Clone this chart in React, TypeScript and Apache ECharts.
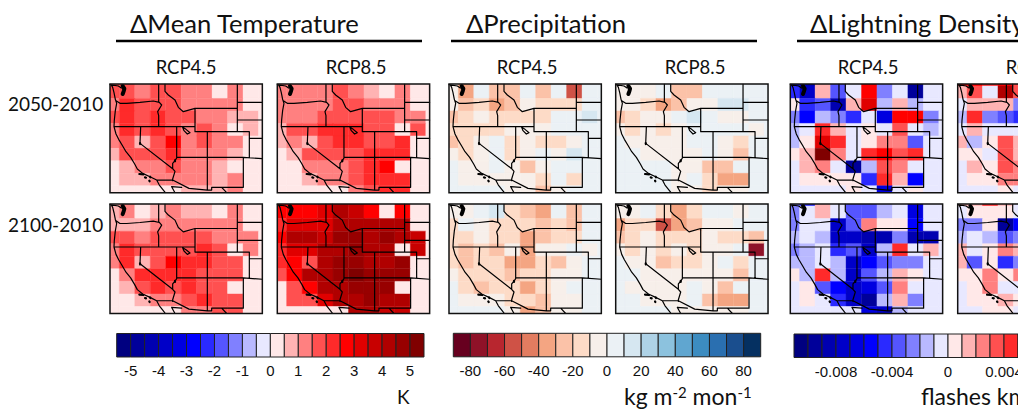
import React, { useEffect, useRef } from "react";
import * as echarts from "echarts";

// ---------- values (rows top to bottom, columns west to east) ----------
const tempBlueRed = ["#000080","#00009a","#0000b0","#0000c8","#0000e0","#0000ff","#2a2aff","#5555ff","#8080ff","#b9b9ff","#e8e8ff","#ffe8e8","#ffb3b3","#ff8080","#ff5050","#ff2a2a","#ff0000","#e00000","#c80000","#b00000","#980000","#800000"];
const precipRdBu = ["#67001f","#8f1228","#b8262f","#cf5246","#e27c60","#f4a582","#fbc2a8","#fddbc7","#f7efea","#ebf1f5","#d6e7f1","#aed2e6","#8cc2de","#60a6d0","#3c8cc0","#2a6fb0","#1a4e8e","#053061"];

const tempTicks = [-5,-4,-3,-2,-1,0,1,2,3,4,5];
const precipTicks = [-80,-60,-40,-20,0,20,40,60,80];
const lightTicks = [-0.008,-0.004,0,0.004,0.008];

const t2050rcp45 = [
 [1.7,1.7,1.2,1.7,1.7,1.2,1.2,.2,1.2,.2,.2],
 [1.7,1.7,1.2,1.7,1.7,1.2,1.2,.2,1.2,.2,.2],
 [1.2,2.2,1.7,1.7,1.7,1.2,1.2,1.2,1.2,.2,.2],
 [1.7,2.2,1.7,2.2,1.7,1.7,1.2,1.2,.7,.7,.2],
 [1.2,2.2,1.7,2.2,1.7,1.2,1.7,1.2,.2,.7,.2],
 [1.2,1.7,.7,1.7,2.7,1.2,1.7,1.2,1.2,.2,.2],
 [.7,1.7,1.7,1.7,2.2,1.2,1.2,1.2,.7,.2,.2],
 [.2,.7,1.2,1.2,1.7,1.2,1.2,.7,.2,.2,.2],
 [.2,.7,.7,1.2,1.2,1.2,1.2,.7,1.2,.2,.2],
 [.2,.2,.2,.2,.2,.7,.7,.7,1.2,.2,.2],
];
const t2050rcp85 = [
 [1.2,1.2,1.2,1.2,1.7,1.2,.7,.2,1.2,.2,.2],
 [1.2,1.2,1.2,1.2,1.7,1.2,.7,.2,1.2,.2,.2],
 [1.2,1.2,1.2,1.2,1.7,1.7,1.2,1.2,1.2,.2,.2],
 [1.2,1.2,1.2,1.7,1.7,1.7,1.7,1.7,1.2,1.2,.2],
 [.7,1.7,1.7,2.2,2.2,2.2,1.7,1.7,.2,1.7,.2],
 [.7,1.2,.7,1.7,2.2,2.2,1.7,1.7,2.2,.2,.2],
 [.2,.7,1.7,1.7,1.7,1.7,2.2,2.2,2.2,.2,.2],
 [.2,.2,1.2,1.2,1.2,1.7,2.2,2.7,.2,.2,.2],
 [.2,.2,.7,1.2,1.2,1.7,2.2,2.2,2.2,.2,.2],
 [.2,.2,.2,.2,.2,1.2,1.7,2.2,2.2,.2,.2],
];
const t2100rcp45 = [
 [.7,1.2,.2,.7,1.2,.7,.7,.2,1.2,.2,.2],
 [.7,1.2,.2,.7,1.2,.7,.7,.2,1.2,.2,.2],
 [.7,.7,.7,1.2,1.2,1.2,1.2,1.2,1.2,.2,.2],
 [1.7,1.7,1.2,1.7,1.7,1.7,1.7,1.2,1.2,1.2,.2],
 [1.2,2.2,1.7,1.7,1.7,1.7,2.2,1.7,.2,1.2,.2],
 [1.2,2.2,.7,1.7,2.7,2.2,2.2,1.7,1.7,.2,.2],
 [.2,1.2,2.2,2.2,2.2,2.2,1.7,1.7,1.7,.2,.2],
 [.2,.7,1.7,2.2,1.7,2.2,1.7,1.7,.2,.2,.2],
 [.2,.2,.7,1.2,1.2,1.7,2.2,1.7,1.7,.2,.2],
 [.2,.2,.2,.2,.2,1.2,1.2,1.7,1.7,.2,.2],
];
const t2100rcp85 = [
 [2.7,2.7,2.7,3.2,4.2,3.7,2.7,.2,2.7,.2,.2],
 [2.7,2.7,2.7,3.2,4.2,3.7,2.7,.2,2.7,.2,.2],
 [2.2,3.2,3.2,3.2,4.2,4.2,4.2,4.2,4.2,.2,.2],
 [2.7,4.2,4.2,3.7,4.7,4.7,4.2,4.7,4.2,3.7,.2],
 [2.2,3.2,3.2,4.2,4.2,4.7,4.2,4.2,.2,3.7,.2],
 [2.2,2.7,1.7,4.2,4.7,4.7,4.2,4.2,4.7,.2,.2],
 [1.7,2.7,4.2,4.2,4.7,5.2,4.7,4.7,4.7,.2,.2],
 [.2,1.7,2.7,4.2,4.2,4.7,4.7,4.7,.2,.2,.2],
 [.2,1.7,1.7,3.2,4.2,4.2,4.7,4.2,4.2,.2,.2],
 [.2,.2,.2,.2,.2,4.2,4.2,3.7,3.7,.2,.2],
];
const p2050rcp45 = [
 [-5,-35,5,-25,-25,5,-25,5,-55,5,5],
 [-5,-35,5,-25,-25,5,-25,5,-55,5,5],
 [-5,-25,-15,-35,-25,-5,-15,-15,-15,5,5],
 [-25,-15,-5,-15,-15,-15,-15,5,5,15,5],
 [-15,-15,-15,-15,-5,-5,-5,5,5,5,5],
 [-25,-15,-5,5,-15,-5,-15,-15,-5,5,5],
 [-5,-15,-5,5,-15,-5,5,-5,15,5,5],
 [5,-5,-5,5,-5,-25,-5,5,5,5,5],
 [5,-5,-5,-5,-5,-5,-15,5,-15,5,5],
 [5,5,5,5,-5,-5,-25,-5,5,5,5],
];
const p2050rcp85 = [
 [-5,-5,-5,5,-25,-25,5,5,5,5,5],
 [-5,-5,-5,5,-25,-25,5,5,5,5,5],
 [-5,-5,-15,-35,-25,-5,-5,15,15,5,5],
 [-25,-15,-5,-5,5,15,5,-5,-5,5,5],
 [-5,-15,-5,-15,-5,5,5,5,5,-5,5],
 [5,-5,-5,-5,-5,5,5,-5,-15,5,5],
 [5,5,-5,-5,-5,-5,5,-5,-25,5,5],
 [5,5,5,5,-5,-5,-25,-25,5,5,5],
 [5,5,5,5,-5,5,-15,-35,-35,5,5],
 [5,5,5,5,-5,-5,-15,-5,-5,5,5],
];
const p2100rcp45 = [
 [-5,-5,5,15,-15,-25,-35,5,-25,5,5],
 [-5,-5,5,15,-15,-25,-35,5,-25,5,5],
 [-15,5,-5,-15,-15,-15,-25,-15,-25,5,5],
 [-15,-15,-5,-15,-15,-35,-25,-15,-15,5,5],
 [-15,-25,-15,-25,-5,-35,-5,-5,5,-5,5],
 [-15,-25,-15,-15,-35,-35,-15,-25,-5,5,5],
 [-5,-15,-15,-15,-25,-15,-15,-5,-5,5,5],
 [5,-15,-25,-15,-15,-35,-15,-5,5,5,5],
 [5,-5,-5,-5,-15,-15,-25,-5,-5,5,5],
 [5,5,5,5,-5,-35,-25,-5,-5,5,5],
];
const p2100rcp85 = [
 [-5,-5,5,-15,-35,-15,5,5,-5,5,5],
 [-5,-5,5,-15,-35,-15,5,5,-5,5,5],
 [-35,-15,-15,-55,-35,-25,-5,-5,5,5,5],
 [-25,-15,-5,-15,-15,-15,-5,-15,-15,-25,5],
 [-5,-15,-5,-15,-5,-15,-5,-5,5,-75,5],
 [5,-5,-5,-25,-15,-15,-5,5,-15,5,5],
 [5,5,-5,-5,-5,-5,-5,-5,-25,5,5],
 [5,-5,-5,-5,-5,5,-5,-25,5,5,5],
 [5,5,-5,-5,-5,5,-25,-35,-35,5,5],
 [5,5,5,5,-5,-5,-5,-5,-5,5,5],
];
// lightning values, in thousandths of a flash
const l2050rcp45 = [
 [-6.5,-8.5,1.5,-3.5,-.5,5.5,-2.5,-.5,-9.5,-.5,-.5],
 [-4.5,-7.5,1.5,-3.5,-.5,5.5,-2.5,-.5,-9.5,-.5,-.5],
 [.5,-4.5,-3.5,-8.5,1.5,6.5,-1.5,1.5,-1.5,-.5,-.5],
 [-2.5,-5.5,-1.5,-2.5,-4.5,-.5,-6.5,5.5,5.5,-2.5,-.5],
 [-1.5,-.5,4.5,1.5,-.5,.5,-.5,3.5,-.5,-1.5,-.5],
 [-1.5,.5,6.5,4.5,-.5,.5,2.5,2.5,-3.5,-.5,-.5],
 [.5,1.5,10.5,2.5,-.5,4.5,5.5,3.5,4.5,-.5,-.5],
 [-.5,1.5,2.5,-.5,-9.5,-1.5,3.5,2.5,-.5,-.5,-.5],
 [-.5,.5,.5,.5,.5,-4.5,4.5,1.5,-5.5,-.5,-.5],
 [-.5,-.5,-.5,-.5,.5,-.5,-6.5,-.5,.5,-.5,-.5],
];
const l2050rcp85 = [
 [5.5,5.5,4.5,5.5,3.5],
 [1.5,3.5,-.5,8.5,3.5],
 [-.5,1.5,1.5,1.5,-2.5],
 [-1.5,4.5,-2.5,-3.5,-4.5],
 [-.5,1.5,-.5,-.5,-.5],
 [1.5,-1.5,.5,3.5,1.5],
 [.5,.5,-.5,3.5,1.5],
 [-.5,1.5,.5,3.5,2.5],
 [-.5,.5,.5,2.5,2.5],
 [-.5,-.5,-.5,.5,-.5],
];
const l2100rcp45 = [
 [-2.5,-4.5,1.5,-.5,-3.5,-3.5,-1.5,-.5,-6.5,-.5,-.5],
 [-2.5,-.5,1.5,-.5,-3.5,-3.5,-1.5,-.5,-6.5,-.5,-.5],
 [-2.5,-.5,-.5,-7.5,-3.5,2.5,.5,.5,-5.5,-.5,-.5],
 [-1.5,-.5,-1.5,-7.5,-7.5,-8.5,-8.5,-2.5,-8.5,-8.5,-.5],
 [-2.5,-1.5,-.5,-4.5,-3.5,-7.5,-1.5,4.5,-.5,1.5,-.5],
 [-1.5,-1.5,-.5,-1.5,-7.5,-5.5,-3.5,-2.5,-2.5,-.5,-.5],
 [.5,-1.5,4.5,-1.5,-7.5,-3.5,-1.5,1.5,.5,-.5,-.5],
 [-.5,.5,-3.5,-5.5,-7.5,-6.5,-3.5,2.5,-.5,-.5,-.5],
 [-.5,.5,-.5,-4.5,-7.5,-9.5,-1.5,1.5,-2.5,-.5,-.5],
 [-.5,-.5,-.5,-.5,-.5,-6.5,-7.5,-1.5,-.5,-.5,-.5],
];
const l2100rcp85 = [
 [1.5,1.5,4.5,1.5,-.5],
 [-.5,.5,.5,.5,-.5],
 [-2.5,-2.5,.5,-9.5,-5.5],
 [-1.5,-.5,-1.5,-3.5,-2.5],
 [1.5,-.5,.5,2.5,1.5],
 [1.5,-3.5,.5,-4.5,-2.5],
 [.5,.5,2.5,.5,2.5],
 [-.5,.5,2.5,-.5,-.5],
 [-.5,.5,.5,1.5,.5],
 [-.5,-.5,.5,.5,-.5],
];

// Base map, traced in map units (panel = 457 x 326)
const mapLines: number[][][] = [
 [[4,3],[8,10],[12,26],[16,46],[20,58],[16,80],[13,108],[12,128],[18,150],[26,166],[38,186],[48,203],[62,220],[74,240],[82,255],[98,268],[120,278],[140,288],[148,303],[160,318],[166,326]],
 [[0,2],[25,6],[34,12]],
 [[18,50],[30,58],[50,58],[90,55],[130,51],[148,55]],
 [[146,0],[146,55]],
 [[148,55],[155,63],[143,83],[146,95],[146,128]],
 [[12,128],[255,128]],
 [[165,0],[165,22],[175,33],[195,48],[205,70],[220,83],[255,73]],
 [[255,73],[255,143],[292,143]],
 [[255,73],[382,73]],
 [[382,0],[382,143]],
 [[292,143],[418,143],[418,220]],
 [[382,55],[457,55]],
 [[382,108],[457,108]],
 [[418,163],[457,163]],
 [[200,220],[400,220],[457,224]],
 [[200,128],[200,222],[195,230],[188,238],[188,254],[195,262],[188,285],[188,290]],
 [[92,128],[90,178],[188,254]],
 [[140,288],[188,288],[237,313],[292,318],[305,318],[305,310],[335,310],[350,326]],
 [[292,143],[292,318]],
 [[400,220],[400,310],[335,310]],
 [[185,308],[215,310]],
 [[185,308],[195,326]],
 [[218,130],[228,136],[240,146],[232,150],[222,140],[218,130]],
];
const mapBlobs: number[][][] = [
 [[90,177],[90.5,180]],
 [[195,229],[195,232]],
 [[88,270],[100,271]],
 [[105,280],[108,281]],
 [[120,278],[121,280]],
 [[118,290],[119,292]],
];
const pugetSound: number[][][] = [[[38,6],[43,14],[41,22],[38,30]]];

// ---------- layout ----------
const MAP_W = 457, MAP_H = 326;
const firstCol = 28, colW = 46.4, firstRow = 6, rowH = 37.4;
const colEdge = (c: number) => Math.min(MAP_W, c <= 0 ? 0 : firstCol + (c - 1) * colW);
const rowEdge = (r: number) => Math.min(MAP_H, r <= 0 ? 0 : firstRow + (r - 1) * rowH);

const withBreaks = (lines: number[][][]) => {
  const out: any[] = [];
  lines.forEach((l) => { l.forEach((p) => out.push(p)); out.push(["-", "-"]); });
  return out;
};

const tempScale = { min: -5.5, step: 0.5, palette: tempBlueRed };
const precipScale = { min: -90, step: 10, palette: precipRdBu };
const lightScale = { min: -11, step: 1, palette: tempBlueRed };

const colorOf = (s: { min: number; step: number; palette: string[] }, v: number) =>
  s.palette[Math.max(0, Math.min(s.palette.length - 1, Math.floor((v - s.min) / s.step)))];

const Y1 = [84, 192.7], Y2 = [204, 313.5];
const panels = [
  { m: t2050rcp45, s: tempScale, x: 110, y: Y1 },
  { m: t2050rcp85, s: tempScale, x: 277.3, y: Y1 },
  { m: t2100rcp45, s: tempScale, x: 110, y: Y2 },
  { m: t2100rcp85, s: tempScale, x: 277.3, y: Y2 },
  { m: p2050rcp45, s: precipScale, x: 449, y: Y1 },
  { m: p2050rcp85, s: precipScale, x: 615.7, y: Y1 },
  { m: p2100rcp45, s: precipScale, x: 449, y: Y2 },
  { m: p2100rcp85, s: precipScale, x: 615.7, y: Y2 },
  { m: l2050rcp45, s: lightScale, x: 790.3, y: Y1 },
  { m: l2050rcp85, s: lightScale, x: 957.7, y: Y1 },
  { m: l2100rcp45, s: lightScale, x: 790.3, y: Y2 },
  { m: l2100rcp85, s: lightScale, x: 957.7, y: Y2 },
];

const bars = [
  { s: tempScale, ticks: tempTicks, x: 116.7, w: 307.3, y: 333.5 },
  { s: precipScale, ticks: precipTicks, x: 453.3, w: 307.4, y: 333.3 },
  { s: { ...lightScale, min: -0.011, step: 0.001 }, ticks: lightTicks, x: 794, w: 308, y: 334 },
];

const titles = [
  { text: "\u0394Mean Temperature", x: 130, lx: 116, lw: 306 },
  { text: "\u0394Precipitation", x: 466, lx: 451, lw: 306 },
  { text: "\u0394Lightning Density", x: 810, lx: 797, lw: 222 },
];
const rcpLabels = [
  { text: "RCP4.5", x: 186 }, { text: "RCP8.5", x: 356 },
  { text: "RCP4.5", x: 527 }, { text: "RCP8.5", x: 695 },
  { text: "RCP4.5", x: 868 }, { text: "RCP8.5", x: 1036 },
];
const rowLabels = [{ text: "2050-2010", y: 103 }, { text: "2100-2010", y: 224 }];

const FONT = "Lato";

function buildOption() {
  const grid: any[] = [], xAxis: any[] = [], yAxis: any[] = [], series: any[] = [];

  panels.forEach((p, i) => {
    grid.push({
      left: p.x, top: p.y[0], width: MAP_W / 3, height: p.y[1] - p.y[0],
      outerBoundsMode: "none", containLabel: false,
      show: true, z: 10, backgroundColor: "transparent", borderColor: "#111", borderWidth: 1.5,
    });
    xAxis.push({ gridIndex: i, type: "value", min: 0, max: MAP_W, show: false });
    yAxis.push({ gridIndex: i, type: "value", min: 0, max: MAP_H, inverse: true, show: false });
    const data: number[][] = [];
    p.m.forEach((row, r) => row.forEach((v, c) => data.push([colEdge(c), rowEdge(r), v, c, r])));
    const scale = p.s;
    series.push({
      type: "custom", xAxisIndex: i, yAxisIndex: i, z: 2, silent: true, clip: true,
      encode: { x: 0, y: 1 }, data,
      renderItem: (_: any, api: any) => {
        const c = api.value(3), r = api.value(4);
        const a = api.coord([colEdge(c), rowEdge(r)]);
        const b = api.coord([colEdge(c + 1), rowEdge(r + 1)]);
        const col = colorOf(scale, api.value(2));
        return {
          type: "rect",
          shape: { x: a[0], y: a[1], width: b[0] - a[0], height: b[1] - a[1] },
          style: { fill: col, stroke: col, lineWidth: 0.4 },
        };
      },
    });
    const lineSeries = (lines: number[][][], width: number) => ({
      type: "line", xAxisIndex: i, yAxisIndex: i, z: 4, silent: true, symbol: "none",
      data: withBreaks(lines), lineStyle: { color: "#000", width, cap: "round", join: "round" }, connectNulls: false,
    });
    series.push(lineSeries(mapLines, 1.2), lineSeries(mapBlobs, 2.2), lineSeries(pugetSound, 4));
  });

  bars.forEach((b, k) => {
    const i = panels.length + k;
    const n = b.s.palette.length;
    const top = 1;
    grid.push({ left: b.x, top: b.y, width: b.w, height: 23.5, outerBoundsMode: "none", containLabel: false });
    xAxis.push({
      gridIndex: i, type: "value", min: b.s.min, max: b.s.min + n * b.s.step,
      axisLine: { show: false }, axisTick: { show: false }, splitLine: { show: false },
      axisLabel: {
        customValues: b.ticks, margin: 6, color: "#111", fontFamily: "Liberation Sans", fontSize: 15,
        showMinLabel: true, showMaxLabel: true,
      },
    });
    yAxis.push({ gridIndex: i, type: "value", min: 0, max: top, show: false });
    const scale = b.s;
    series.push({
      type: "custom", xAxisIndex: i, yAxisIndex: i, silent: true, clip: false,
      encode: { x: 0, y: 1 },
      data: scale.palette.map((_, j) => [scale.min + j * scale.step, 0, j]),
      renderItem: (_: any, api: any) => {
        const j = api.value(2);
        const a = api.coord([scale.min + j * scale.step, top]);
        const c = api.coord([scale.min + (j + 1) * scale.step, 0]);
        return {
          type: "rect",
          shape: { x: a[0], y: a[1], width: c[0] - a[0], height: c[1] - a[1] },
          style: { fill: scale.palette[j], stroke: "#222", lineWidth: 1 },
        };
      },
    });
  });

  const sup = { fontSize: 15, fontFamily: FONT, fill: "#111", color: "#111", verticalAlign: "top", lineHeight: 24 };
  const base = { fontSize: 23, fontFamily: FONT, fill: "#111", color: "#111", lineHeight: 24 };
  const graphic: any[] = [];
  titles.forEach((t) => {
    graphic.push({ type: "text", x: t.x, y: 23, style: { text: t.text, fontFamily: FONT, fontSize: 25.6, fill: "#111", verticalAlign: "middle" } });
    graphic.push({ type: "line", shape: { x1: t.lx, y1: 41, x2: t.lx + t.lw, y2: 41 }, style: { stroke: "#000", lineWidth: 2.5 } });
  });
  rcpLabels.forEach((t) => graphic.push({ type: "text", x: t.x, y: 67, style: { text: t.text, fontFamily: FONT, fontSize: 18.5, fill: "#111", align: "center", verticalAlign: "middle" } }));
  rowLabels.forEach((t) => graphic.push({ type: "text", x: 8, y: t.y, style: { text: t.text, fontFamily: FONT, fontSize: 19, fill: "#111", verticalAlign: "middle" } }));
  graphic.push({ type: "text", x: 397, y: 396, style: { text: "K", fontFamily: FONT, fontSize: 19, fill: "#111", verticalAlign: "middle" } });
  graphic.push({ type: "text", x: 624, y: 396, style: { text: "{b|kg m}{s|-2}{b| mon}{s|-1}", verticalAlign: "middle", rich: { b: base, s: sup } } });
  graphic.push({ type: "text", x: 921, y: 396, style: { text: "{b|flashes km}{s|-2}{b| mon}{s|-1}", verticalAlign: "middle", rich: { b: base, s: sup } } });

  return { animation: false, backgroundColor: "#fff", grid, xAxis, yAxis, series, graphic };
}

export default function App() {
  const ref = useRef<HTMLDivElement>(null);
  useEffect(() => {
    const chart = echarts.init(ref.current!, undefined, { renderer: "svg" });
    chart.setOption(buildOption() as any);
    return () => chart.dispose();
  }, []);
  return <div ref={ref} style={{ position: "fixed", left: 0, top: 0, width: 1018, height: 411 }} />;
}
